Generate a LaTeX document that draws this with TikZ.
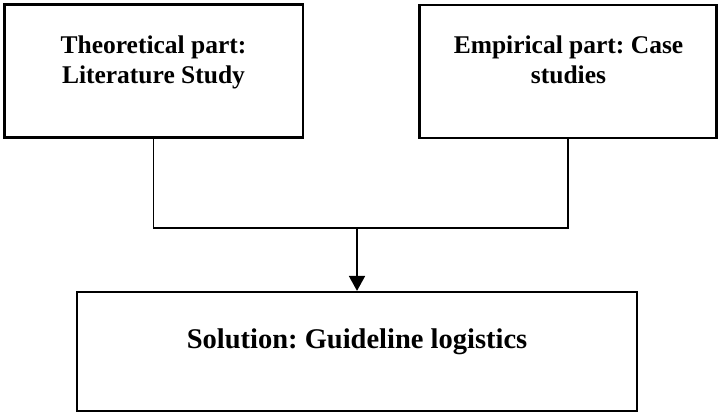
\documentclass[tikz,border=0pt]{standalone}
\usepackage{fontspec}
\setmainfont{Liberation Serif}
\usetikzlibrary{arrows.meta}
\begin{document}
\frenchspacing
\begin{tikzpicture}[x=1pt,y=-1pt,
  box/.style={draw=black, line width=2.2pt, fill=white, inner sep=0pt},
  link/.style={draw=black, line width=1.4pt},
  heading/.style={font=\bfseries\fontsize{25.5}{30}\selectfont, align=center, inner sep=0pt, anchor=base},
  result/.style={font=\bfseries\fontsize{28.5}{34}\selectfont, inner sep=0pt, anchor=base}]
  \useasboundingbox (0,0) rectangle (720,413);

  % the two input boxes and the result box
  \node[box, minimum width=298.5pt, minimum height=133pt] (lit) at (153.75,71) {};
  \node[box, minimum width=297pt, minimum height=133pt] (emp) at (568,71.5) {};
  \node[box, minimum width=560pt, minimum height=119pt] (sol) at (357,351.5) {};

  % their texts (base anchor sits on the last line)
  \node[heading] (litT) at (153.5,83) {Theoretical part:\\Literature Study};
  \node[heading] (empT) at (568.5,83) {Empirical part: Case\\studies};
  \node[result] (solT) at (357,348) {Solution: Guideline logistics};

  % joining line and arrow into the result
  \coordinate (j) at (sol.north |- 0,228);
  \draw[link] (lit.south) |- (j) -| (emp.south);
  \draw[link, line width=1.8pt, -{Triangle[length=15pt,width=16pt]}] (j) -- (sol.north);
\end{tikzpicture}
\end{document}
